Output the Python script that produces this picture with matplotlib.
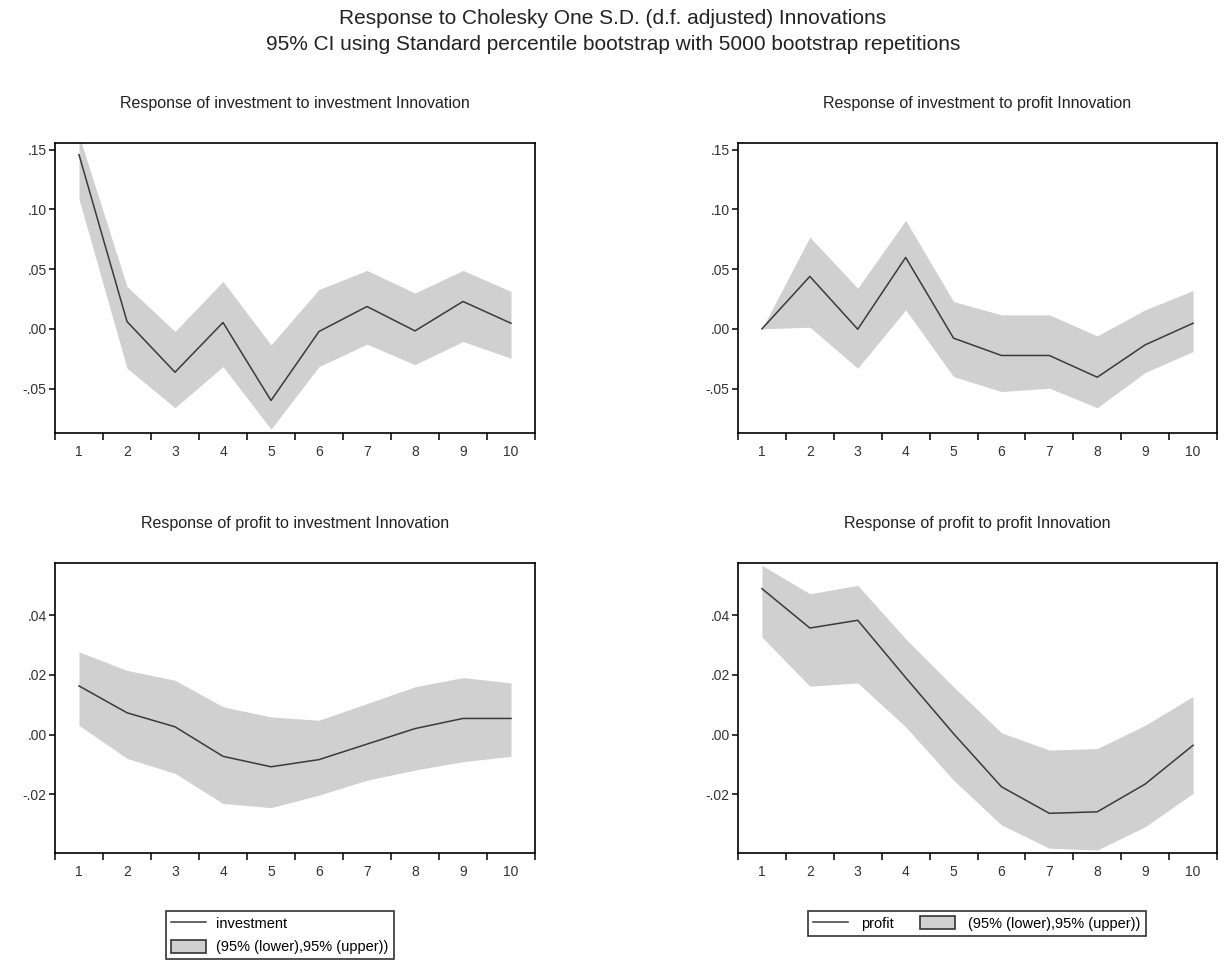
import numpy as np
import matplotlib
matplotlib.use("Agg")
import matplotlib.pyplot as plt
from matplotlib.ticker import FuncFormatter, FixedLocator
from matplotlib.lines import Line2D
from matplotlib.patches import Patch

plt.rcParams['font.family'] = ['Liberation Sans', 'DejaVu Sans']

# --- data (periods 1..10) ---
periods = [1, 2, 3, 4, 5, 6, 7, 8, 9, 10]

inv_inv = [0.1458, 0.0061, -0.0363, 0.0053, -0.0600, -0.0022, 0.0187, -0.0017, 0.0229, 0.0047]
inv_inv_lo = [0.1087, -0.0330, -0.0660, -0.0316, -0.0840, -0.0316, -0.0128, -0.0300, -0.0106, -0.0246]
inv_inv_hi = [0.1620, 0.0355, -0.0022, 0.0397, -0.0134, 0.0330, 0.0489, 0.0300, 0.0489, 0.0313]

inv_prof = [0.0000, 0.0439, -0.0003, 0.0598, -0.0078, -0.0223, -0.0223, -0.0405, -0.0134, 0.0047]
inv_prof_lo = [0.0000, 0.0014, -0.0330, 0.0159, -0.0400, -0.0525, -0.0497, -0.0660, -0.0366, -0.0190]
inv_prof_hi = [0.0000, 0.0768, 0.0340, 0.0908, 0.0229, 0.0117, 0.0117, -0.0059, 0.0159, 0.0321]

prof_inv = [0.0163, 0.0073, 0.0026, -0.0073, -0.0108, -0.0084, -0.0032, 0.0020, 0.0054, 0.0054]
prof_inv_lo = [0.0031, -0.0080, -0.0130, -0.0231, -0.0245, -0.0203, -0.0153, -0.0119, -0.0091, -0.0073]
prof_inv_hi = [0.0277, 0.0215, 0.0182, 0.0093, 0.0059, 0.0048, 0.0104, 0.0160, 0.0191, 0.0173]

prof_prof = [0.0489, 0.0357, 0.0383, 0.0191, 0.0003, -0.0175, -0.0264, -0.0259, -0.0166, -0.0036]
prof_prof_lo = [0.0327, 0.0162, 0.0173, 0.0026, -0.0153, -0.0303, -0.0381, -0.0387, -0.0309, -0.0197]
prof_prof_hi = [0.0567, 0.0472, 0.0500, 0.0321, 0.0160, 0.0006, -0.0052, -0.0047, 0.0031, 0.0128]

titles = ["Response of investment to investment Innovation",
          "Response of investment to profit Innovation",
          "Response of profit to investment Innovation",
          "Response of profit to profit Innovation"]

BAND = '#d0d0d0'
LINE = '#3a3a3a'
W, H = 1226, 961


def rect(l, r, t, b):
    return [l / W, 1 - b / H, (r - l) / W, (b - t) / H]


def fmt(v, pos):
    s = f"{v:.2f}"
    return s.replace("0.", ".")


fig = plt.figure(figsize=(W / 100, H / 100), dpi=100)
fig.patch.set_facecolor('white')

fig.text(0.5, 1 - 19 / H, "Response to Cholesky One S.D. (d.f. adjusted) Innovations",
         ha='center', va='center', fontsize=15, color='#222222')
fig.text(0.5, 1 - 45 / H, "95% CI using Standard percentile bootstrap with 5000 bootstrap repetitions",
         ha='center', va='center', fontsize=15, color='#222222')

panels = [
    (rect(55, 535, 143, 433), inv_inv, inv_inv_lo, inv_inv_hi, (-0.0872, 0.1556), [-0.05, 0.0, 0.05, 0.10, 0.15]),
    (rect(738, 1217, 143, 433), inv_prof, inv_prof_lo, inv_prof_hi, (-0.0872, 0.1556), [-0.05, 0.0, 0.05, 0.10, 0.15]),
    (rect(55, 535, 563, 853), prof_inv, prof_inv_lo, prof_inv_hi, (-0.0397, 0.0575), [-0.02, 0.0, 0.02, 0.04]),
    (rect(738, 1217, 563, 853), prof_prof, prof_prof_lo, prof_prof_hi, (-0.0397, 0.0575), [-0.02, 0.0, 0.02, 0.04]),
]

axes = []
for i, (r, y, lo, hi, ylim, yt) in enumerate(panels):
    ax = fig.add_axes(r)
    ax.fill_between(periods, lo, hi, color=BAND, lw=0)
    ax.plot(periods, y, color=LINE, lw=1.1)
    ax.set_xlim(0.5, 10.5)
    ax.set_ylim(*ylim)
    ax.set_yticks(yt)
    ax.yaxis.set_major_formatter(FuncFormatter(fmt))
    # ticks between categories, labels on categories
    ax.xaxis.set_major_locator(FixedLocator(np.arange(0.5, 11, 1)))
    ax.xaxis.set_minor_locator(FixedLocator(periods))
    ax.xaxis.set_major_formatter(FuncFormatter(lambda v, p: ""))
    ax.xaxis.set_minor_formatter(FuncFormatter(lambda v, p: f"{int(round(v))}"))
    ax.tick_params(axis='x', which='major', direction='out', length=5, width=1.1, color='black')
    ax.tick_params(axis='x', which='minor', length=0, pad=9, labelsize=10, labelcolor='#333333')
    ax.tick_params(axis='y', direction='out', length=4, width=1.1, pad=2, labelsize=10, labelcolor='#333333')
    for sp in ax.spines.values():
        sp.set_linewidth(1.2)
        sp.set_color('black')
    ax.set_title(titles[i], fontsize=11.5, color='#222222', pad=25)
    axes.append(ax)

h_line = Line2D([], [], color=LINE, lw=1.1)
h_band = Patch(facecolor=BAND, edgecolor='#333333', lw=1.2)

leg1 = fig.legend([h_line, h_band], ["investment", "(95% (lower),95% (upper))"],
                  loc='upper center', bbox_to_anchor=(280 / W, 1 - 904 / H),
                  fontsize=10.5, frameon=True, fancybox=False, ncol=1,
                  handlelength=2.4, handleheight=1.0, labelspacing=0.6,
                  borderpad=0.35, handletextpad=0.7)
leg1.get_frame().set_edgecolor('black')
leg1.get_frame().set_linewidth(1.2)

leg2 = fig.legend([h_line, h_band], ["profit", "(95% (lower),95% (upper))"],
                  loc='upper center', bbox_to_anchor=(977 / W, 1 - 904 / H),
                  fontsize=10.5, frameon=True, fancybox=False, ncol=2,
                  handlelength=2.4, handleheight=1.0, columnspacing=1.8,
                  borderpad=0.35, handletextpad=0.9)
leg2.get_frame().set_edgecolor('black')
leg2.get_frame().set_linewidth(1.2)

fig.savefig("out.png", dpi=100)
